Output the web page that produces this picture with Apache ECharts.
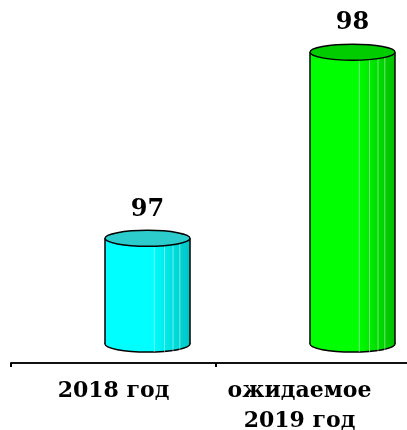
<!DOCTYPE html>
<html>
<head>
<meta charset="utf-8">
<script src="https://cdn.jsdelivr.net/npm/echarts@6/dist/echarts.min.js"></script>
<style>
  html, body { margin: 0; padding: 0; background: #fff; }
  #chart { width: 407px; height: 430px; }
</style>
</head>
<body>
<div id="chart"></div>
<script>
// данные
var categories = ['2018 год', 'ожидаемое\n2019 год'];
var values = [97, 98];
var yMin = 96.33;
var yMax = 98.2;

// цвета цилиндров: [светлый, тёмный, крышка]
var palette = [
  ['#00ffff', '#00c4c4', '#2ccccc'],
  ['#00ff00', '#00c000', '#00cc00']
];

var chart = echarts.init(document.getElementById('chart'));

chart.setOption({
  animation: false,
  grid: { left: 11, width: 410, top: 15, bottom: 67, outerBoundsMode: 'none', containLabel: false },
  xAxis: {
    type: 'category',
    data: categories,
    axisLine: { lineStyle: { color: '#111', width: 2 } },
    axisTick: { show: true, length: 4, lineStyle: { color: '#000', width: 2 } },
    axisLabel: {
      margin: 13,
      interval: 0,
      color: '#000',
      fontFamily: 'DejaVu Serif',
      fontWeight: 'bold',
      fontSize: 22,
      lineHeight: 30,
      formatter: function (v, i) {
        return i === 1 ? '{b|' + v.split('\n').join('}\n{b|') + '}' : v;
      },
      rich: {
        b: {
          fontFamily: 'DejaVu Serif', fontWeight: 'bold', fontSize: 22,
          lineHeight: 30, color: '#000', padding: [0, 38, 0, 0]
        }
      }
    }
  },
  yAxis: { type: 'value', min: yMin, max: yMax, show: false, splitLine: { show: false } },
  series: [{
    type: 'custom',
    clip: false,
    data: values.map(function (v, i) { return [i, v]; }),
    renderItem: function (params, api) {
      var i = api.value(0);
      var top = api.coord([i, api.value(1)]);
      var base = api.coord([i, yMin]);
      var c = palette[i];
      var w = 85, ry = 8;
      var cx = top[0] + 34;
      var x0 = cx - w / 2;
      var yTop = top[1], yBot = base[1] - 19;
      var fill = new echarts.graphic.LinearGradient(0, 0, 1, 0, [
        { offset: 0, color: c[0] },
        { offset: 0.55, color: c[0] },
        { offset: 1, color: c[1] }
      ]);
      var stripes = [];
      [0.58, 0.7, 0.8, 0.88].forEach(function (f) {
        stripes.push({
          type: 'line',
          shape: { x1: x0 + w * f, y1: yTop, x2: x0 + w * f, y2: yBot + ry },
          style: { stroke: 'rgba(255,255,255,0.45)', lineWidth: 1 }
        });
      });
      return {
        type: 'group',
        children: [
          {
            type: 'ellipse',
            shape: { cx: cx, cy: yBot, rx: w / 2, ry: ry },
            style: { fill: fill, stroke: '#000', lineWidth: 1.5 }
          },
          {
            type: 'rect',
            shape: { x: x0, y: yTop, width: w, height: yBot - yTop },
            style: { fill: fill }
          }
        ].concat(stripes).concat([
          {
            type: 'line',
            shape: { x1: x0, y1: yTop, x2: x0, y2: yBot },
            style: { stroke: '#000', lineWidth: 1.5 }
          },
          {
            type: 'line',
            shape: { x1: x0 + w, y1: yTop, x2: x0 + w, y2: yBot },
            style: { stroke: '#000', lineWidth: 1.5 }
          },
          {
            type: 'ellipse',
            shape: { cx: cx, cy: yTop, rx: w / 2, ry: ry },
            style: { fill: c[2], stroke: '#000', lineWidth: 1.5 }
          },
          {
            type: 'text',
            style: {
              text: String(api.value(1)),
              x: cx, y: yTop - ry - 9,
              align: 'center', verticalAlign: 'bottom',
              font: 'bold 24px "DejaVu Serif"',
              fill: '#000'
            }
          }
        ])
      };
    }
  }]
});
</script>
</body>
</html>
